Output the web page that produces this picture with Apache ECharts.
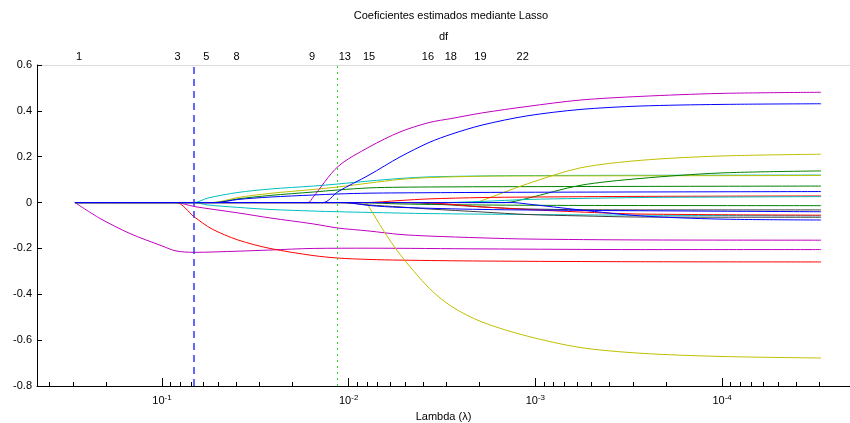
<!DOCTYPE html>
<html>
<head>
<meta charset="utf-8" />
<script src="https://cdn.jsdelivr.net/npm/echarts@6/dist/echarts.min.js"></script>
<style>html,body{margin:0;padding:0;background:#fff}#chart{width:850px;height:423px}</style>
</head>
<body>
<div id="chart"></div>
<script>
// trayectorias lasso: pares [lambda, coeficiente]
var magentaA = [[0.2924,0],[0.2149,-0.069],[0.1484,-0.135],[0.1,-0.189],[0.0841,-0.211],[0.0674,-0.217],[0.0392,-0.212],[0.0264,-0.207],[0.0155,-0.200],[0.00778,-0.199],[0.00193,-0.202],[0.000275,-0.205],[0.0000295,-0.205]];
var redB = [[0.2924,0],[0.0841,0],[0.0674,-0.0615],[0.0540,-0.115],[0.0392,-0.163],[0.0264,-0.200],[0.0155,-0.231],[0.01141,-0.242],[0.00778,-0.248],[0.00531,-0.251],[0.00193,-0.255],[0.000275,-0.258],[0.0000295,-0.259]];
var magentaC = [[0.2924,0],[0.0841,0],[0.0674,-0.017],[0.0392,-0.045],[0.0264,-0.067],[0.0155,-0.093],[0.01141,-0.111],[0.00778,-0.124],[0.00531,-0.139],[0.00371,-0.146],[0.00193,-0.154],[0.00111,-0.159],[0.000275,-0.163],[0.0000295,-0.164]];
var cyanD = [[0.2924,0],[0.0674,0],[0.0567,0.020],[0.0392,0.044],[0.0264,0.059],[0.0155,0.072],[0.01141,0.081],[0.00778,0.094],[0.00531,0.105],[0.00371,0.112],[0.00193,0.116],[0.00111,0.118],[0.0000295,0.120]];
var yellowE = [[0.2924,0],[0.0540,0],[0.0392,0.022],[0.0264,0.040],[0.0155,0.057],[0.01141,0.068],[0.00778,0.085],[0.00531,0.101],[0.00371,0.109],[0.00193,0.115],[0.00111,0.116],[0.0000295,0.118]];
var greenF = [[0.2924,0],[0.0520,0],[0.0392,0.016],[0.0264,0.031],[0.0155,0.046],[0.01141,0.055],[0.00778,0.064],[0.00531,0.067],[0.00193,0.069],[0.0000295,0.072]];
var blueG = [[0.2924,0],[0.0520,0],[0.0392,0.0135],[0.0264,0.024],[0.0155,0.033],[0.01141,0.0375],[0.00778,0.041],[0.00371,0.043],[0.00111,0.045],[0.0000295,0.048]];
var cyanH = [[0.2924,0],[0.0674,0],[0.0567,-0.0105],[0.0392,-0.021],[0.0264,-0.030],[0.0155,-0.037],[0.01141,-0.040],[0.00778,-0.043],[0.00371,-0.048],[0.00111,-0.052],[0.000275,-0.055],[0.0000295,-0.058]];
var magentaI = [[0.2924,0],[0.01652,0],[0.0155,0.024],[0.01141,0.157],[0.00778,0.242],[0.00531,0.308],[0.00371,0.349],[0.0028,0.367],[0.00193,0.391],[0.00111,0.419],[0.000577,0.447],[0.000275,0.463],[0.0001026,0.476],[0.0000295,0.481]];
var blueJ = [[0.2924,0],[0.01373,0],[0.01141,0.0475],[0.00778,0.120],[0.00531,0.199],[0.00371,0.262],[0.0028,0.299],[0.00193,0.338],[0.00111,0.378],[0.000577,0.406],[0.000275,0.421],[0.0001026,0.428],[0.0000295,0.431]];
var yellowK = [[0.2924,0],[0.00818,0],[0.00778,-0.019],[0.00655,-0.119],[0.00531,-0.226],[0.00371,-0.373],[0.0028,-0.454],[0.00193,-0.521],[0.00111,-0.582],[0.000577,-0.632],[0.000275,-0.657],[0.0001026,-0.671],[0.0000295,-0.678]];
var yellowL = [[0.2924,0],[0.00211,0],[0.00193,0.009],[0.00111,0.081],[0.000577,0.151],[0.000275,0.184],[0.0001026,0.203],[0.0000295,0.211]];
var greenM = [[0.2924,0],[0.001455,0],[0.00111,0.018],[0.000577,0.075],[0.000275,0.105],[0.0001026,0.129],[0.0000295,0.138]];
var redN = [[0.2924,0],[0.00818,0],[0.00531,0.009],[0.00371,0.016],[0.00193,0.022],[0.00111,0.024],[0.000275,0.027],[0.0000295,0.029]];
var cyanO = [[0.2924,0],[0.00324,0],[0.00193,0.005],[0.00111,0.0135],[0.000577,0.018],[0.000275,0.022],[0.0001026,0.024],[0.0000295,0.026]];
var greenP = [[0.2924,0],[0.0087,0],[0.00531,-0.006],[0.00193,-0.0105],[0.000577,-0.0125],[0.0000295,-0.0135]];
var blackQ1 = [[0.2924,0],[0.01113,0],[0.00778,-0.0105],[0.00531,-0.019],[0.00371,-0.028],[0.00193,-0.041],[0.00111,-0.052],[0.000577,-0.058],[0.000275,-0.063],[0.0000295,-0.064]];
var blackQ2 = [[0.2924,0],[0.00531,0],[0.00193,-0.019],[0.00111,-0.028],[0.000275,-0.032],[0.0000295,-0.032]];
var blueR2 = [[0.2924,0],[0.01046,0],[0.00778,-0.0127],[0.00531,-0.021],[0.00193,-0.030],[0.000577,-0.034],[0.0000295,-0.040]];
var redR3 = [[0.2924,0],[0.00415,0],[0.00193,-0.019],[0.00111,-0.030],[0.000577,-0.041],[0.000275,-0.050],[0.0000295,-0.055]];
var blueR = [[0.2924,0],[0.001318,0],[0.00111,-0.006],[0.000577,-0.032],[0.000275,-0.058],[0.0001026,-0.072],[0.0000295,-0.076]];

// eje superior: grados de libertad
var dfLambda = [0.2783, 0.0826, 0.0578, 0.0398, 0.0157, 0.01049, 0.00778, 0.00376, 0.00284, 0.00197, 0.00117];
var dfLabels = ['1','3','5','8','9','13','15','16','18','19','22'];
// marcas del eje inferior
var majorTicks = [0.1, 0.01, 0.001, 0.0001];
var minorTicks = [0.4,0.3,0.2, 0.09,0.08,0.07,0.06,0.05,0.04,0.03,0.02,
  0.009,0.008,0.007,0.006,0.005,0.004,0.003,0.002,
  0.0009,0.0008,0.0007,0.0006,0.0005,0.0004,0.0003,0.0002,
  0.00009,0.00008,0.00007,0.00006,0.00005,0.00004,0.00003];
var lambdaMin = 0.0674;   // linea azul discontinua
var lambdaMinMSE = 0.01141; // linea verde punteada
var yTicks = [-0.8, 0.6, 0.2];

var FONT = 'Liberation Sans';
var lg = function (l) { return Math.log10(l); };
var X_MIN = lg(2.065e-5), X_MAX = lg(0.467);

var B = '#0000ff', G = '#008000', R = '#ff0000', C = '#00bfbf', M = '#bf00bf', Y = '#bfbf00', K = '#404040';
var paths = [
  [magentaA, M], [redB, R], [magentaC, M], [cyanD, C], [yellowE, Y], [greenF, G], [cyanH, C],
  [magentaI, M], [yellowK, Y], [yellowL, Y], [greenM, G], [redN, R], [cyanO, C], [greenP, G],
  [blackQ1, K], [blackQ2, K], [redR3, R], [blueR2, B], [blueG, B], [blueJ, B], [blueR, B]
];

var series = paths.map(function (p) {
  return {
    type: 'line',
    data: p[0].map(function (d) { return [lg(d[0]), d[1]]; }),
    showSymbol: false,
    smooth: 0.3,
    silent: true,
    lineStyle: { color: p[1], width: 1 },
    itemStyle: { color: p[1] }
  };
});
// lineas verticales de referencia
series.push({
  type: 'line', data: [], silent: true,
  markLine: {
    silent: true, symbol: ['none', 'none'], label: { show: false },
    lineStyle: { color: '#3333ff', type: [7, 5], width: 1.5, opacity: 1 },
    data: [{ xAxis: lg(lambdaMin) }]
  }
});
series.push({
  type: 'line', data: [], silent: true,
  markLine: {
    silent: true, symbol: ['none', 'none'], label: { show: false },
    lineStyle: { color: '#22dd22', type: [2, 4], width: 1, opacity: 1 },
    data: [{ xAxis: lg(lambdaMinMSE) }]
  }
});

var chart = echarts.init(document.getElementById('chart'));
chart.setOption({
  animation: false,
  title: {
    text: 'Coeficientes estimados mediante Lasso',
    left: 446, top: 5, textAlign: 'center',
    textStyle: { fontSize: 11, fontWeight: 'normal', fontFamily: FONT, color: '#000' }
  },
  grid: { left: 37, right: 0, top: 65, bottom: 37, containLabel: false, outerBoundsMode: 'none' },
  xAxis: [
    {
      type: 'value', position: 'bottom', inverse: true, min: X_MIN, max: X_MAX,
      name: 'Lambda (λ)', nameLocation: 'middle', nameGap: 25,
      nameTextStyle: { fontSize: 11, fontFamily: FONT, color: '#000' },
      axisLine: { show: true, onZero: false, lineStyle: { color: '#000', width: 1 } },
      axisTick: { show: true, inside: true, length: 8, customValues: majorTicks.map(lg), lineStyle: { color: '#000' } },
      splitLine: { show: false },
      axisLabel: {
        customValues: majorTicks.map(lg), margin: 8,
        formatter: function (v) { return '{b|10}{s|' + Math.round(v) + '}'; },
        rich: {
          b: { fontSize: 11, fontFamily: FONT, color: '#000' },
          s: { fontSize: 8, fontFamily: FONT, color: '#000', verticalAlign: 'top', padding: [0, 0, 6, 0] }
        }
      }
    },
    {
      type: 'value', position: 'bottom', inverse: true, min: X_MIN, max: X_MAX,
      axisLine: { show: false, onZero: false },
      axisTick: { show: true, inside: true, length: 4, customValues: minorTicks.map(lg), lineStyle: { color: '#000' } },
      axisLabel: { show: false },
      splitLine: { show: false }
    },
    {
      type: 'value', position: 'top', inverse: true, min: X_MIN, max: X_MAX,
      name: 'df', nameLocation: 'middle', nameGap: 23,
      nameTextStyle: { fontSize: 11, fontFamily: FONT, color: '#000' },
      axisLine: { show: true, onZero: false, lineStyle: { color: '#dcdcdc', width: 1 } },
      axisTick: { show: false },
      splitLine: { show: false },
      axisLabel: {
        customValues: dfLambda.map(lg), margin: 3,
        fontSize: 11, fontFamily: FONT, color: '#000',
        formatter: function (v) {
          var best = 0, bd = Infinity;
          dfLambda.forEach(function (l, i) { var d = Math.abs(lg(l) - v); if (d < bd) { bd = d; best = i; } });
          return dfLabels[best];
        }
      }
    }
  ],
  yAxis: {
    type: 'value', min: yTicks[0], max: yTicks[1], interval: yTicks[2],
    axisLine: { show: true, onZero: false, lineStyle: { color: '#000', width: 1 } },
    axisTick: { show: true, inside: true, length: 5, lineStyle: { color: '#000' } },
    splitLine: { show: false },
    axisLabel: {
      margin: 5, fontSize: 11, fontFamily: FONT, color: '#000',
      formatter: function (v) { return Math.abs(v) < 1e-9 ? '0' : v.toFixed(1); }
    }
  },
  series: series
});
</script>
</body>
</html>
